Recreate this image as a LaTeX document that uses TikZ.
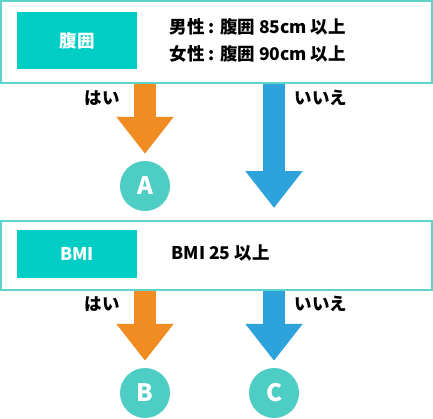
\documentclass[tikz,border=0pt]{standalone}
\usepackage{fontspec}
\setmainfont{Noto Sans CJK JP}
\usetikzlibrary{positioning,arrows.meta}
\definecolor{teal1}{HTML}{00CEC5}
\definecolor{teal2}{HTML}{5FD3CB}
\definecolor{circ}{HTML}{4ECDC4}
\definecolor{orng}{HTML}{F08C21}
\definecolor{blu}{HTML}{2EA3DB}
\begin{document}
\begin{tikzpicture}[x=1pt, y=-1pt, font=\bfseries\fontsize{17.5}{20}\selectfont,
  frame/.style={draw=teal2, line width=2pt, fill=white, minimum width=431pt, inner sep=0pt},
  tag/.style={fill=teal1, text=white, minimum width=120pt, inner sep=0pt},
  result/.style={circle, fill=circ, text=white, minimum size=50pt, inner sep=0pt, font=\bfseries\fontsize{24}{26}\selectfont},
  answer/.style={text=black},
  flow/.style={line width=22pt, -{Triangle[length=37pt, width=55pt]}, shorten >=7pt}]

  \useasboundingbox (0,0) rectangle (433,418);

  % First row
  \node[frame, minimum height=82pt] (W) at (216.5,42) {};
  \node[tag, minimum height=57pt] (W1) at (77,40.5) {腹囲};
  \node[anchor=west] (W2) at (166,27) {男性 : 腹囲 85cm 以上};
  \node[anchor=west] (W3) at (166,54) {女性 : 腹囲 90cm 以上};

  % Second row
  \node[frame, minimum height=69pt] (M) at (216.5,255.5) {};
  \node[tag, minimum height=48pt] (M1) at (77,254) {BMI};
  \node[anchor=west] (M2) at (168,253) {BMI 25 以上};

  % Results
  \node[result] (A) at (145,186) {A};
  \node[result] (B) at (145,393) {B};
  \node[result] (C) at (274,393) {C};
  \coordinate (J1) at (274,186);

  % Labels
  \node[answer] (Y1) at (102,98) {はい};
  \node[answer] (N1) at (321,98) {いいえ};
  \node[answer] (Y2) at (102,304) {はい};
  \node[answer] (N2) at (321,304) {いいえ};

  % Arrows
  \draw[flow, orng] (W.south -| A.north) -- (A.north);
  \draw[flow, blu, shorten >=12pt] (W.south -| J1) -- (M.north -| J1);
  \draw[flow, orng] (M.south -| B.north) -- (B.north);
  \draw[flow, blu] (M.south -| C.north) -- (C.north);

\end{tikzpicture}
\end{document}
